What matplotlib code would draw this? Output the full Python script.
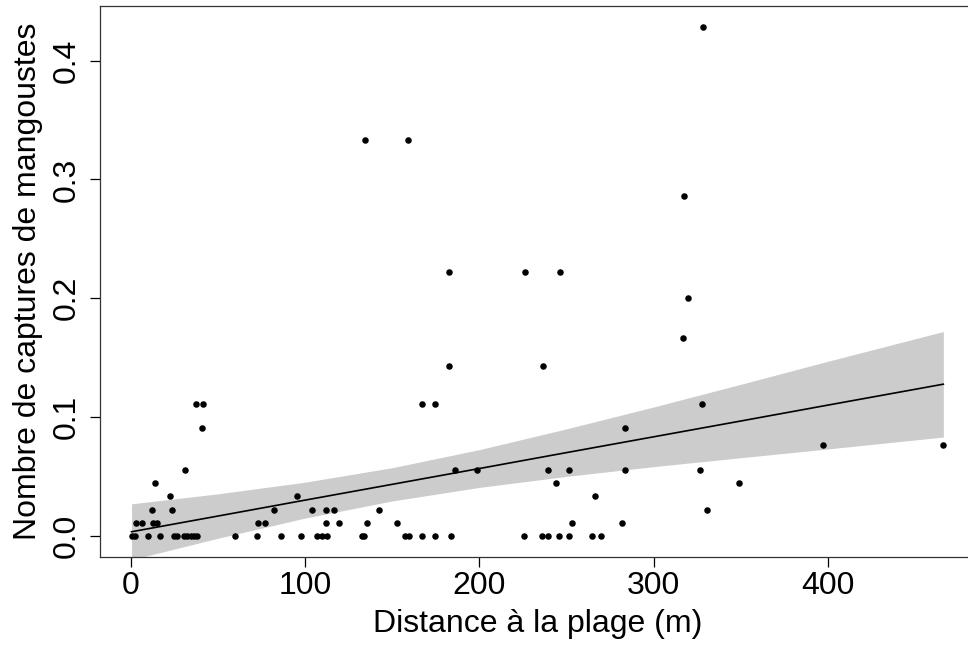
import matplotlib
matplotlib.use("Agg")
import matplotlib.pyplot as plt

plt.rcParams['font.family'] = ['Liberation Sans', 'DejaVu Sans']

# distance to the beach (m) and mongoose captures
distance = [
    0.9, 2.5, 10.1, 16.6, 24.8, 26.4, 30.6, 32.5, 34.4, 36.3, 37.8, 59.6,
    72.6, 86.2, 97.6, 107.0, 110.0, 112.4, 132.6, 133.8, 157.5, 159.4,
    167.2, 174.5, 183.8, 225.9, 235.7, 239.5, 245.8, 251.7, 264.5, 269.7,
    3.0, 6.3, 13.0, 14.9, 73.0, 76.8, 112.0, 119.4, 135.5, 152.9, 252.9, 282.1,
    12.0, 23.5, 82.2, 104.1, 111.8, 116.6, 142.4, 330.8,
    22.4, 95.2, 266.4,
    14.1, 243.9, 348.8,
    31.3, 186.1, 198.4, 239.5, 251.7, 283.8, 326.4,
    397.1, 466.2,
    41.1, 283.8,
    37.3, 41.3, 167.2, 174.5, 327.6,
    182.5, 236.6,
    317.0,
    319.8,
    182.5, 226.4, 246.5,
    317.5,
    134.2, 159.3,
    328.6,
]
captures = (
    [0.0] * 32
    + [0.0111] * 12
    + [0.0222] * 8
    + [0.0333] * 3
    + [0.0444] * 3
    + [0.0556] * 7
    + [0.0769] * 2
    + [0.0909] * 2
    + [0.1111] * 5
    + [0.1429] * 2
    + [0.1667]
    + [0.2]
    + [0.2222] * 3
    + [0.2857]
    + [0.3333] * 2
    + [0.4286]
)

# fitted line and confidence band
fit_x = [0.5, 50, 100, 150, 200, 250, 300, 350, 400, 466.2]
fit_y = [0.0035, 0.0167, 0.0301, 0.0434, 0.0567, 0.0701, 0.0834, 0.0967, 0.1101, 0.1277]
fit_lo = [-0.0200, -0.0020, 0.0150, 0.0294, 0.0408, 0.0501, 0.0583, 0.0658, 0.0732, 0.0832]
fit_hi = [0.0270, 0.0354, 0.0452, 0.0574, 0.0726, 0.0901, 0.1085, 0.1276, 0.1470, 0.1720]

fig = plt.figure(figsize=(9.68, 6.49), dpi=100)
ax = fig.add_axes([100 / 968, 92.3 / 649, 875.4 / 968, 550.7 / 649])

ax.fill_between(fit_x, fit_lo, fit_hi, color='#cccccc', linewidth=0, zorder=1)
ax.plot(fit_x, fit_y, color='black', lw=1.2, zorder=2)
ax.scatter(distance, captures, s=22, color='black', linewidths=0, zorder=3)

ax.set_xlim(-17.6, 484.6)
ax.set_ylim(-0.0175, 0.446)
ax.set_xticks([0, 100, 200, 300, 400])
ax.set_yticks([0.0, 0.1, 0.2, 0.3, 0.4])
ax.set_yticklabels(['0.0', '0.1', '0.2', '0.3', '0.4'], rotation=90, va='center')

ax.tick_params(direction='out', length=7.2, width=0.9, labelsize=23, colors='black')
ax.tick_params(axis='x', pad=3)
ax.tick_params(axis='y', pad=6)
for s in ax.spines.values():
    s.set_linewidth(0.9)
    s.set_color('#333333')

ax.set_xlabel('Distance à la plage (m)', fontsize=23, labelpad=6)
ax.set_ylabel('Nombre de captures de mangoustes', fontsize=23, labelpad=6)

fig.savefig('out.png', dpi=100)
